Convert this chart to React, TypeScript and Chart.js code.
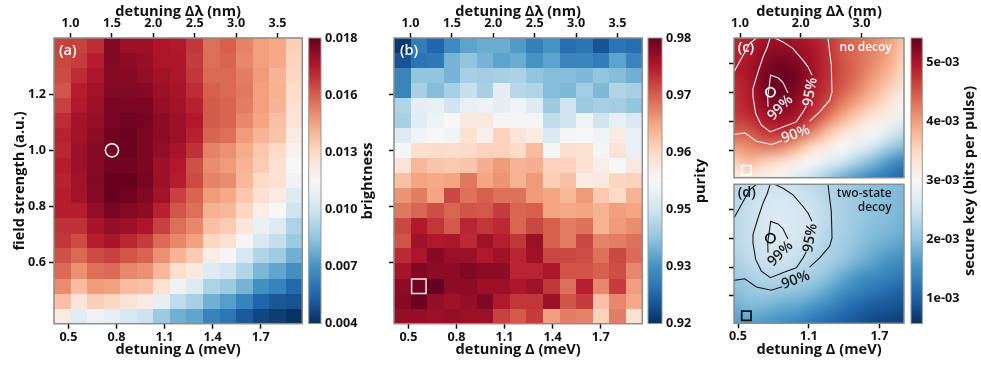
import { useEffect, useRef } from 'react';
import { Chart, registerables } from 'chart.js';

Chart.register(...registerables);

const FONT = '"Open Sans", "DejaVu Sans", sans-serif';

// ---- colormap (RdBu reversed) ----
const rdbu = ['#053061', '#2166ac', '#4393c3', '#92c5de', '#d1e5f0', '#f7f7f7', '#fddbc7', '#f4a582', '#d6604d', '#b2182b', '#67001f'];

// ---- axes ----
const meVTicks = [0.5, 0.8, 1.1, 1.4, 1.7];
const nmTicks = [1.0, 1.5, 2.0, 2.5, 3.0, 3.5];
const fieldTicks = [0.6, 0.8, 1.0, 1.2];
const meVTicksSmall = [0.5, 1.1, 1.7];
const nmTicksSmall = [1.0, 2.0, 3.0];

// ---- heatmap grid centres ----
const detuningNm = [0.9, 1.1, 1.3, 1.5, 1.7, 1.9, 2.1, 2.3, 2.5, 2.7, 2.9, 3.1, 3.3, 3.5, 3.7];
const fieldRows = [1.374, 1.32, 1.267, 1.213, 1.159, 1.106, 1.052, 0.998, 0.945, 0.891, 0.837, 0.784, 0.73, 0.676, 0.623, 0.569, 0.515, 0.461, 0.408];

// ---- panel (a): brightness x 1e3 ----
const brightness = [
  [15.8, 15.8, 16.2, 17.5, 17.0, 17.0, 16.7, 16.6, 16.0, 14.9, 15.2, 14.5, 13.9, 13.7, 12.7],
  [15.7, 15.9, 16.5, 17.5, 17.3, 17.1, 16.7, 16.7, 15.9, 14.9, 15.1, 14.4, 13.9, 13.7, 12.6],
  [15.6, 16.2, 16.7, 17.4, 17.4, 17.2, 16.9, 16.7, 16.0, 15.0, 15.0, 14.6, 14.0, 13.4, 12.5],
  [15.4, 16.5, 16.9, 17.5, 17.5, 17.4, 17.0, 16.8, 16.2, 15.2, 15.0, 14.7, 13.9, 13.5, 12.3],
  [15.8, 16.6, 17.0, 17.7, 17.6, 17.6, 17.1, 16.9, 16.4, 15.3, 15.1, 14.6, 13.9, 13.4, 12.1],
  [16.2, 16.9, 17.1, 17.7, 17.8, 17.7, 17.3, 17.0, 16.6, 15.3, 15.1, 14.4, 13.8, 13.1, 12.0],
  [16.4, 16.9, 17.3, 17.8, 17.9, 17.6, 17.3, 17.0, 16.4, 15.1, 14.9, 14.0, 13.4, 13.0, 11.6],
  [16.3, 17.0, 17.4, 17.8, 17.9, 17.6, 17.2, 16.8, 16.1, 14.5, 14.2, 13.6, 12.9, 12.4, 11.2],
  [16.5, 17.0, 17.4, 17.8, 17.8, 17.6, 17.0, 16.6, 15.5, 14.3, 14.0, 13.4, 12.8, 12.1, 11.0],
  [16.4, 16.9, 17.5, 18.0, 18.0, 17.7, 17.0, 16.5, 15.6, 14.5, 14.3, 13.3, 12.4, 12.1, 10.7],
  [16.5, 16.9, 17.4, 18.0, 17.8, 17.5, 16.9, 15.8, 15.1, 14.0, 13.7, 12.9, 12.1, 11.6, 10.1],
  [16.5, 16.5, 17.2, 17.7, 17.4, 17.3, 16.4, 15.4, 14.9, 13.5, 13.3, 12.5, 11.5, 11.0, 9.6],
  [16.1, 16.1, 16.8, 17.2, 17.0, 16.7, 15.8, 14.9, 14.4, 13.1, 12.8, 11.8, 10.5, 10.1, 8.8],
  [16.0, 15.6, 16.5, 16.8, 16.3, 15.9, 15.0, 14.4, 13.9, 12.5, 12.1, 11.1, 9.9, 9.3, 8.4],
  [15.5, 15.0, 15.6, 15.8, 15.4, 15.1, 14.2, 13.4, 12.8, 11.5, 11.1, 9.9, 8.9, 8.5, 7.6],
  [15.0, 14.2, 14.9, 15.0, 14.4, 14.2, 13.3, 12.2, 11.7, 10.1, 9.7, 8.9, 7.8, 7.3, 6.7],
  [14.3, 13.2, 14.0, 13.9, 13.2, 13.1, 12.1, 10.6, 10.0, 8.8, 8.4, 7.7, 6.7, 6.3, 5.5],
  [13.1, 11.9, 12.7, 12.5, 12.0, 11.6, 10.4, 9.2, 8.7, 7.6, 7.1, 6.3, 5.4, 5.0, 4.9],
  [11.6, 10.2, 10.7, 10.4, 9.8, 9.5, 8.4, 7.6, 7.3, 6.3, 5.9, 5.1, 4.6, 4.4, 4.05],
];

// ---- panel (b): purity in percent ----
const purity = [
  [92.1, 92.9, 92.6, 93.1, 93.4, 93.5, 93.5, 93.3, 92.95, 93.2, 92.7, 92.8, 92.4, 92.8, 92.7],
  [92.4, 92.8, 92.85, 93.6, 93.8, 93.6, 93.4, 93.5, 93.2, 93.4, 93.0, 93.0, 92.9, 93.4, 93.0],
  [93.0, 93.8, 93.8, 93.6, 94.0, 93.95, 94.0, 94.05, 93.8, 93.7, 93.7, 93.65, 93.8, 93.7, 93.55],
  [93.0, 94.0, 93.7, 94.0, 94.3, 94.0, 94.7, 94.15, 94.1, 93.7, 93.65, 93.95, 93.65, 94.1, 94.0],
  [94.1, 94.7, 94.75, 94.4, 94.75, 94.85, 94.7, 94.9, 94.6, 93.9, 94.4, 93.9, 94.0, 93.95, 93.8],
  [94.0, 94.65, 94.85, 95.0, 95.3, 95.3, 95.05, 94.95, 94.95, 94.25, 94.4, 94.9, 94.4, 94.75, 94.55],
  [94.6, 94.9, 95.0, 94.9, 95.45, 95.15, 95.7, 95.4, 95.25, 94.55, 95.05, 95.0, 94.9, 95.25, 94.75],
  [94.95, 95.5, 95.55, 95.55, 95.6, 95.7, 95.7, 95.6, 95.95, 94.95, 95.5, 95.45, 94.95, 95.4, 94.75],
  [95.4, 96.0, 95.85, 95.8, 95.85, 96.1, 96.3, 96.05, 96.1, 95.7, 95.7, 95.45, 95.2, 95.0, 95.3],
  [95.9, 96.2, 96.15, 96.2, 96.6, 96.2, 96.35, 96.05, 96.3, 95.75, 95.9, 95.25, 95.3, 95.65, 95.7],
  [96.35, 96.55, 96.2, 97.0, 96.65, 96.8, 96.65, 96.65, 96.3, 96.2, 96.0, 96.3, 95.8, 95.6, 96.05],
  [96.6, 96.75, 96.95, 96.75, 96.9, 96.85, 97.1, 96.75, 96.8, 96.2, 96.15, 96.2, 96.05, 96.25, 96.2],
  [97.0, 97.4, 97.15, 96.85, 97.3, 97.15, 97.25, 96.75, 97.0, 96.8, 96.55, 96.65, 96.05, 96.3, 96.4],
  [96.9, 97.55, 97.4, 97.45, 97.25, 97.55, 97.35, 97.15, 97.6, 96.8, 96.55, 97.0, 96.5, 96.55, 96.65],
  [97.25, 97.45, 97.75, 97.6, 97.6, 97.4, 97.55, 97.3, 97.55, 97.0, 97.0, 96.95, 96.65, 97.0, 96.7],
  [97.5, 97.8, 97.7, 97.7, 97.8, 97.7, 97.7, 97.3, 97.3, 97.45, 96.9, 96.9, 96.8, 96.95, 96.45],
  [97.7, 97.9, 98.0, 97.7, 97.7, 97.6, 97.6, 97.45, 97.55, 97.15, 96.65, 97.35, 96.45, 97.1, 96.25],
  [97.75, 97.95, 97.65, 97.55, 97.65, 97.8, 97.4, 97.15, 97.15, 97.6, 96.9, 97.1, 95.9, 96.45, 96.15],
  [97.65, 97.65, 97.6, 97.65, 97.6, 97.6, 97.05, 96.85, 97.1, 96.25, 96.55, 96.5, 95.7, 96.55, 95.45],
];

// ---- panels (c), (d): secure key x 1e3 read on a coarse lattice ----
const keyMeV = [0.466, 0.597, 0.728, 0.859, 0.99, 1.122, 1.253, 1.384, 1.515, 1.646, 1.778, 1.909];
const keyField = [1.374, 1.267, 1.16, 1.053, 0.946, 0.838, 0.731, 0.624, 0.517, 0.41];
const keyNoDecoy = [
  [4.85, 4.85, 5.0, 5.05, 5.0, 4.9, 4.75, 4.5, 4.35, 4.2, 4.0, 3.7],
  [4.85, 4.95, 5.15, 5.2, 5.15, 5.0, 4.8, 4.5, 4.35, 4.2, 3.95, 3.6],
  [4.9, 5.0, 5.25, 5.35, 5.3, 5.05, 4.8, 4.55, 4.35, 4.1, 3.85, 3.5],
  [4.8, 4.95, 5.3, 5.4, 5.3, 5.0, 4.75, 4.5, 4.25, 3.95, 3.65, 3.3],
  [4.75, 4.9, 5.2, 5.3, 5.15, 4.9, 4.65, 4.3, 4.0, 3.7, 3.4, 3.1],
  [4.7, 4.8, 5.0, 5.1, 5.0, 4.75, 4.35, 3.95, 3.6, 3.35, 3.15, 2.85],
  [4.45, 4.5, 4.75, 4.8, 4.65, 4.25, 3.8, 3.4, 3.2, 3.0, 2.75, 2.45],
  [4.05, 4.15, 4.25, 4.2, 3.9, 3.5, 3.2, 3.0, 2.8, 2.55, 2.2, 1.95],
  [3.55, 3.75, 3.55, 3.4, 3.15, 3.0, 2.75, 2.5, 2.2, 1.9, 1.6, 1.35],
  [3.15, 3.2, 3.1, 3.0, 2.75, 2.45, 2.15, 1.85, 1.6, 1.4, 1.2, 1.05],
];
const keyTwoState = [
  [2.3, 2.35, 2.45, 2.45, 2.45, 2.35, 2.25, 2.15, 2.05, 2.0, 1.95, 1.9],
  [2.3, 2.4, 2.55, 2.6, 2.55, 2.45, 2.3, 2.2, 2.1, 2.0, 1.95, 1.9],
  [2.3, 2.45, 2.6, 2.65, 2.6, 2.5, 2.35, 2.2, 2.1, 2.0, 1.95, 1.85],
  [2.3, 2.45, 2.6, 2.65, 2.6, 2.5, 2.3, 2.2, 2.05, 1.95, 1.9, 1.8],
  [2.3, 2.4, 2.55, 2.6, 2.5, 2.4, 2.25, 2.15, 2.0, 1.85, 1.75, 1.65],
  [2.2, 2.35, 2.45, 2.5, 2.4, 2.3, 2.2, 2.05, 1.85, 1.7, 1.55, 1.45],
  [2.1, 2.2, 2.3, 2.3, 2.25, 2.15, 2.0, 1.75, 1.55, 1.45, 1.35, 1.25],
  [1.95, 2.05, 2.1, 2.05, 2.0, 1.9, 1.7, 1.5, 1.35, 1.2, 1.1, 1.0],
  [1.8, 1.9, 1.85, 1.75, 1.7, 1.55, 1.4, 1.2, 1.05, 0.95, 0.9, 0.85],
  [1.65, 1.65, 1.6, 1.5, 1.4, 1.25, 1.1, 1.0, 0.9, 0.8, 0.75, 0.7],
];

// ---- contours (meV, field) ----
const contour99 = [[0.755, 0.899], [0.752, 0.968], [0.766, 1.048], [0.777, 1.117], [0.84, 1.099], [0.882, 1.066], [0.924, 0.995]];
const contour95a = [[0.772, 1.374], [0.749, 1.312], [0.712, 1.243], [0.67, 1.14], [0.627, 1.025], [0.627, 0.968], [0.65, 0.853], [0.698, 0.772], [0.775, 0.726], [0.896, 0.765], [0.995, 0.795], [1.052, 0.864], [1.08, 0.905]];
const contour95b = [[0.811, 1.374], [0.882, 1.347], [0.967, 1.301], [1.052, 1.22], [1.094, 1.175], [1.128, 1.117]];
const contour90a = [[0.466, 0.708], [0.557, 0.719], [0.656, 0.662], [0.783, 0.639], [0.874, 0.664]];
const contour90b = [[1.108, 0.8], [1.193, 0.864], [1.278, 0.945], [1.298, 1.002], [1.292, 1.186], [1.278, 1.278], [1.264, 1.374]];
const contour90c = [[0.466, 1.14], [0.528, 1.232], [0.599, 1.335], [0.656, 1.374]];

// ---- colour bars ----
const brightnessTicks = [4, 6.8, 9.6, 12.4, 15.2, 18];
const brightnessLabels = ['0.004', '0.007', '0.010', '0.013', '0.016', '0.018'];
const purityTicks = [92, 93.2, 94.4, 95.6, 96.8, 98];
const purityLabels = ['0.92', '0.93', '0.95', '0.96', '0.97', '0.98'];
const keyTicks = [1, 2, 3, 4, 5];
const keyLabels = ['1e-03', '2e-03', '3e-03', '4e-03', '5e-03'];

// ---- helpers ----
function hexRgb(h: string) {
  return [1, 3, 5].map((i) => parseInt(h.slice(i, i + 2), 16));
}
function cmap(t: number) {
  const c = Math.max(0, Math.min(1, t)) * (rdbu.length - 1);
  const i = Math.min(rdbu.length - 2, Math.floor(c));
  const f = c - i;
  const a = hexRgb(rdbu[i]);
  const b = hexRgb(rdbu[i + 1]);
  return a.map((v, k) => Math.round(v + (b[k] - v) * f));
}
const css = (r: number[]) => `rgb(${r[0]},${r[1]},${r[2]})`;

type Note = { text: string; x: number; y: number; color: string; size?: number; weight?: number; align?: CanvasTextAlign; rot?: number; px?: boolean };

const midpoint = (list: number[], i: number) => {
  if (i <= 0) return list[0] - (list[1] - list[0]) / 2;
  if (i >= list.length) return list[list.length - 1] + (list[list.length - 1] - list[list.length - 2]) / 2;
  return (list[i - 1] + list[i]) / 2;
};

function paintPlugin(spec: any) {
  return {
    id: 'paint',
    beforeDatasetsDraw(chart: any) {
      const { ctx, chartArea: a } = chart;
      ctx.save();
      if (spec.cells) {
        const { rows, lo, hi } = spec.cells;
        const x = chart.scales.x2;
        const y = chart.scales.y;
        rows.forEach((row: number[], j: number) =>
          row.forEach((v, i) => {
            const x0 = Math.round(x.getPixelForValue(midpoint(detuningNm, i)));
            const x1 = Math.round(x.getPixelForValue(midpoint(detuningNm, i + 1)));
            const y0 = Math.round(y.getPixelForValue(midpoint(fieldRows, j)));
            const y1 = Math.round(y.getPixelForValue(midpoint(fieldRows, j + 1)));
            ctx.fillStyle = css(cmap((v - lo) / (hi - lo)));
            ctx.fillRect(x0, y0, x1 - x0, y1 - y0);
          }),
        );
      }
      if (spec.field) {
        const { rows, lo, hi } = spec.field;
        const ny = rows.length;
        const nx = rows[0].length;
        const off = document.createElement('canvas');
        off.width = nx;
        off.height = ny;
        const oc = off.getContext('2d')!;
        rows.forEach((row: number[], j: number) =>
          row.forEach((v, i) => {
            oc.fillStyle = css(cmap((v - lo) / (hi - lo)));
            oc.fillRect(i, j, 1, 1);
          }),
        );
        ctx.imageSmoothingEnabled = true;
        ctx.imageSmoothingQuality = 'high';
        const x0 = chart.scales.x.getPixelForValue(keyMeV[0]);
        const x1 = chart.scales.x.getPixelForValue(keyMeV[nx - 1]);
        const y0 = chart.scales.y.getPixelForValue(keyField[0]);
        const y1 = chart.scales.y.getPixelForValue(keyField[ny - 1]);
        ctx.drawImage(off, 0.5, 0.5, nx - 1, ny - 1, x0, y0, x1 - x0, y1 - y0);
      }
      if (spec.bar) {
        const y = chart.scales.y;
        const g = ctx.createLinearGradient(0, y.getPixelForValue(y.min), 0, y.getPixelForValue(y.max));
        rdbu.forEach((c, i) => g.addColorStop(i / (rdbu.length - 1), c));
        ctx.fillStyle = g;
        ctx.fillRect(a.left, a.top, a.right - a.left, a.bottom - a.top);
      }
      ctx.restore();
    },
    afterDatasetsDraw(chart: any) {
      const { ctx, chartArea: a } = chart;
      ctx.save();
      ctx.strokeStyle = spec.frame || '#8c8c8c';
      ctx.lineWidth = spec.frameWidth || 1.5;
      ctx.strokeRect(a.left, a.top, a.right - a.left, a.bottom - a.top);
      (spec.notes || []).forEach((n: Note) => {
        const px = n.px ? n.x : chart.scales.x.getPixelForValue(n.x);
        const py = n.px ? n.y : chart.scales.y.getPixelForValue(n.y);
        ctx.save();
        ctx.translate(px, py);
        if (n.rot) ctx.rotate((n.rot * Math.PI) / 180);
        ctx.font = `${n.weight || 600} ${n.size || 14.5}px ${FONT}`;
        ctx.fillStyle = n.color;
        ctx.textAlign = n.align || 'center';
        ctx.textBaseline = 'middle';
        ctx.fillText(n.text, 0, 0);
        ctx.restore();
      });
      ctx.restore();
    },
  };
}

const tickFont = { family: FONT, size: 12.6, weight: '700' as const };
const titleFont = { family: FONT, size: 14.6, weight: '700' as const };
const TEXT = '#111';

function fixedTicks(values: number[]) {
  return (s: any) => {
    s.ticks = values.map((value) => ({ value }));
  };
}

function axis(opts: any) {
  const { values, size, digits = 1, labels = true, labelList, title, titlePad, position, min, max, display = true, pad = 2, tick = 5 } = opts;
  const horizontal = position === 'top' || position === 'bottom';
  return {
    type: 'linear',
    position,
    display,
    min,
    max,
    afterBuildTicks: fixedTicks(values),
    afterFit(s: any) {
      s.paddingLeft = s.paddingRight = s.paddingTop = s.paddingBottom = 0;
      if (!display) return;
      if (horizontal) s.height = size;
      else s.width = size;
    },
    border: { display: false },
    grid: { drawOnChartArea: false, drawTicks: tick > 0, tickLength: tick, tickWidth: 1.5, tickColor: '#111' },
    ticks: {
      autoSkip: false,
      maxRotation: 0,
      minRotation: 0,
      padding: pad,
      color: TEXT,
      font: tickFont,
      callback: (v: number, i: number) => (labelList ? labelList[i] : labels ? v.toFixed(digits) : ''),
    },
    title: title
      ? { display: true, text: title, color: TEXT, font: titleFont, padding: titlePad }
      : { display: false },
  };
}

const cellPoints = (rows: number[][]) => rows.flatMap((r, j) => r.map((v, i) => ({ x: detuningNm[i], y: fieldRows[j], v })));
const xy = (pts: number[][]) => pts.map(([x, y]) => ({ x, y }));

function lines(color: string) {
  return [contour99, contour95a, contour95b, contour90a, contour90b, contour90c].map((pts, i) => ({
    type: 'scatter' as const,
    label: `contour ${i}`,
    data: xy(pts),
    showLine: true,
    tension: 0,
    borderColor: color,
    borderWidth: 1.1,
    pointRadius: 0,
  }));
}

function marker(data: any[], style: string, color: string, radius: number, width: number, xAxisID: string) {
  return {
    type: 'scatter' as const,
    label: style,
    data,
    xAxisID,
    pointStyle: style,
    pointRadius: radius,
    pointBorderColor: color,
    pointBackgroundColor: 'rgba(0,0,0,0)',
    pointBorderWidth: width,
    borderColor: color,
    clip: false,
  };
}

function hiddenCells(rows: number[][]) {
  return { type: 'scatter' as const, label: 'cells', data: cellPoints(rows), xAxisID: 'x2', pointRadius: 0 };
}

const noteContours = (color: string): Note[] => [
  { text: '90%', x: 0.9895, y: 0.71, color, rot: -20 },
  { text: '95%', x: 1.114, y: 1.002, color, rot: -80 },
  { text: '99%', x: 0.859, y: 0.892, color, rot: -45 },
];

const field = { min: 0.381, max: 1.401 };
const meV = { min: 0.41, max: 1.96 };
const nm = { min: 0.8, max: 3.8 };
const fieldSmall = { min: 0.41, max: 1.374 };
const meVSmall = { min: 0.466, max: 1.909 };
const nmSmall = { min: 0.9, max: 3.7 };
const keyRange = { min: 0.58, max: 5.405 };

const TOP_T = 'detuning Δλ (nm)';
const BOT_T = 'detuning Δ (meV)';

function heatPlot(rows: number[][], lo: number, hi: number, leftSize: number, leftLabels: boolean, notes: Note[], markers: any[]) {
  return {
    spec: { cells: { rows, lo, hi }, notes },
    data: { datasets: [hiddenCells(rows), ...markers] },
    padding: { right: 3.7 },
    scales: {
      x: axis({ position: 'bottom', values: meVTicks, size: 44.3, ...meV, title: BOT_T, titlePad: { top: 0, bottom: 9.6 }, pad: 1 }),
      x2: axis({ position: 'top', values: nmTicks, size: 38, ...nm, title: TOP_T, titlePad: { top: 2.6, bottom: 0 } }),
      y: axis({ position: 'left', values: fieldTicks, size: leftSize, ...field, labels: leftLabels, title: leftLabels ? 'field strength (a.u.)' : undefined, titlePad: { top: 11.5, bottom: 0 }, pad: 3 }),
    },
  };
}

function keyPlot(rows: number[][], isTop: boolean, color: string, notes: Note[]) {
  return {
    spec: { field: { rows, lo: keyRange.min, hi: keyRange.max }, notes: [...noteContours(color), ...notes] },
    data: {
      datasets: [
        ...lines(color),
        marker([{ x: 1.5, y: 1.0 }], 'circle', isTop ? '#fff' : '#111', 4.6, 1.8, 'x2'),
        marker([{ x: 0.571, y: 0.462 }], 'rect', isTop ? '#fff' : '#111', 6.6, 1.7, 'x'),
      ],
    },
    padding: isTop ? { right: 4, bottom: 3.3 } : { right: 4, top: 3.3 },
    scales: {
      x: axis({ position: 'bottom', values: meVTicksSmall, size: 44.7, display: !isTop, ...meVSmall, title: BOT_T, titlePad: { top: 0, bottom: 9.6 }, pad: 1 }),
      x2: axis({ position: 'top', values: nmTicksSmall, size: 38, display: isTop, ...nmSmall, title: TOP_T, titlePad: { top: 2.6, bottom: 0 } }),
      y: axis({ position: 'left', values: fieldTicks, size: 34, ...fieldSmall, labels: false }),
    },
  };
}

function colorBar(values: number[], labels: string[], min: number, max: number, padLeft: number, size: number, title: string, titleX: number) {
  return {
    spec: {
      bar: true,
      frame: '#999',
      frameWidth: 1,
      notes: [{ text: title, x: titleX, y: 181, color: TEXT, rot: -90, size: 14.6, weight: 700, px: true }],
    },
    data: { datasets: [] },
    padding: { left: padLeft, top: 38, bottom: 44.4 },
    scales: {
      x: { type: 'linear', display: false, min: 0, max: 1 },
      y: axis({ position: 'right', values, size, min, max, labelList: labels, tick: 0, pad: 4 }),
    },
  };
}

const white = '#fff';
const dark = '#1a1a1a';

const panels: any[] = [
  {
    box: { left: 0, top: 0, width: 306, height: 368 },
    ...heatPlot(brightness, 4, 18, 54, true, [{ text: '(a)', x: 59, y: 51, color: white, px: true, align: 'left' }], [marker([{ x: 1.5, y: 1.0 }], 'circle', white, 6.6, 1.5, 'x2')]),
  },
  {
    box: { left: 360, top: 0, width: 286, height: 368 },
    ...heatPlot(purity, 92, 98, 34, false, [{ text: '(b)', x: 40, y: 51, color: white, px: true, align: 'left' }], [marker([{ x: 1.1, y: 0.515 }], 'rect', '#eee', 10.2, 1.5, 'x2')]),
  },
  {
    box: { left: 700, top: 0, width: 208, height: 181 },
    ...keyPlot(keyNoDecoy, true, '#f2f2f2', [
      { text: '(c)', x: 0.4975, y: 1.3055, color: white, align: 'left' },
      { text: 'no decoy', x: 1.805, y: 1.3055, color: white, align: 'right', size: 12 },
    ]),
  },
  {
    box: { left: 700, top: 181, width: 208, height: 187 },
    ...keyPlot(keyTwoState, false, dark, [
      { text: '(d)', x: 0.4975, y: 1.3124, color: dark, align: 'left' },
      { text: 'two-state', x: 1.805, y: 1.31, color: dark, align: 'right', size: 12 },
      { text: 'decoy', x: 1.805, y: 1.216, color: dark, align: 'right', size: 12 },
    ]),
  },
  { box: { left: 306, top: 0, width: 70, height: 368 }, ...colorBar(brightnessTicks, brightnessLabels, 4, 18, 2.7, 55, 'brightness', 61.7) },
  { box: { left: 646, top: 0, width: 70, height: 368 }, ...colorBar(purityTicks, purityLabels, 92, 98, 2, 54, 'purity', 54.7) },
  { box: { left: 909, top: 0, width: 72, height: 368 }, ...colorBar(keyTicks, keyLabels, keyRange.min, keyRange.max, 2, 58.7, 'secure key (bits per pulse)', 61) },
];

function Panel({ p }: { p: any }) {
  const ref = useRef<HTMLCanvasElement>(null);
  useEffect(() => {
    const chart = new Chart(ref.current!, {
      type: 'scatter',
      data: p.data,
      options: {
        animation: false,
        responsive: false,
        devicePixelRatio: 1,
        layout: { padding: p.padding, autoPadding: false },
        plugins: { legend: { display: false }, tooltip: { enabled: false } },
        scales: p.scales,
      },
      plugins: [paintPlugin(p.spec)],
    } as any);
    return () => chart.destroy();
  }, [p]);
  return (
    <canvas
      ref={ref}
      width={p.box.width}
      height={p.box.height}
      style={{ position: 'absolute', left: p.box.left, top: p.box.top, width: p.box.width, height: p.box.height }}
    />
  );
}

export default function App() {
  return (
    <div style={{ position: 'absolute', left: 0, top: 0, width: 981, height: 368, background: '#fff', overflow: 'hidden' }}>
      {panels.map((p, i) => (
        <Panel key={i} p={p} />
      ))}
    </div>
  );
}
